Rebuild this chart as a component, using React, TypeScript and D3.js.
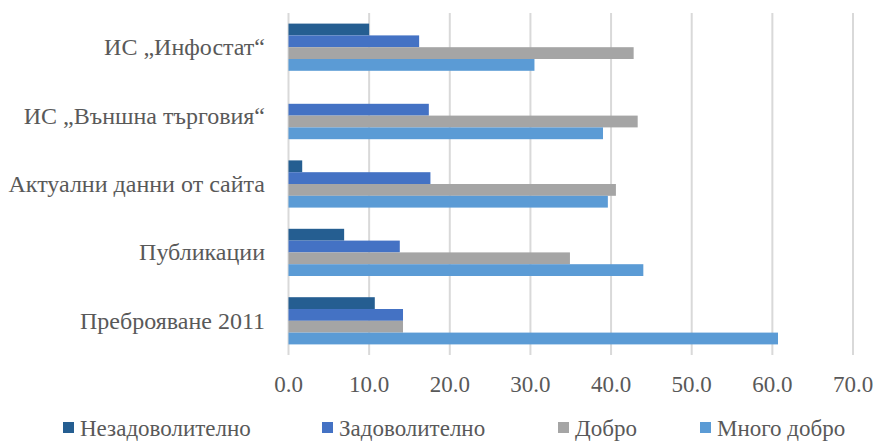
import * as d3 from "d3";

const categories = [
  "ИС „Инфостат“",
  "ИС „Външна търговия“",
  "Актуални данни от сайта",
  "Публикации",
  "Преброяване 2011",
];
const seriesNames = ["Незадоволително", "Задоволително", "Добро", "Много добро"];
const seriesColors = ["#255E91", "#4472C4", "#A5A5A5", "#5B9BD5"];

// values per category, in series order
const nezadovolitelno = [10.0, 0, 1.7, 6.9, 10.7];
const zadovolitelno = [16.2, 17.4, 17.6, 13.8, 14.2];
const dobro = [42.8, 43.3, 40.6, 34.9, 14.2];
const mnogoDobro = [30.5, 39.0, 39.6, 44.0, 60.7];
const xTicks = [0, 10, 20, 30, 40, 50, 60, 70];

const seriesValues = [nezadovolitelno, zadovolitelno, dobro, mnogoDobro];

const width = 881;
const height = 445;
const textStyle = { fontFamily: '"Liberation Serif", "DejaVu Serif", serif' };
const textColor = "#595959";
const fs = 23;

export default function App() {
  const x = d3.scaleLinear().domain([0, 70]).range([288.5, 853]);
  const y = d3
    .scaleBand()
    .domain(categories)
    .range([13, 355])
    .paddingInner(0.31)
    .paddingOuter(0.155);
  const ys = d3
    .scaleBand()
    .domain(seriesNames)
    .range([0, y.bandwidth()]);

  const legendX = [63, 322, 558, 700];

  return (
    <svg
      width={width}
      height={height}
      style={{ position: "absolute", left: 0, top: 0, background: "#fff" }}
    >
      {xTicks.map((t) => (
        <line
          key={t}
          x1={x(t)}
          x2={x(t)}
          y1={13}
          y2={355}
          stroke="#d9d9d9"
          strokeWidth={2}
        />
      ))}
      {categories.map((c, ci) => (
        <g key={c} transform={`translate(0,${y(c)})`}>
          {seriesNames.map((s, si) => {
            const v = seriesValues[si][ci];
            if (!v) return null;
            return (
              <rect
                key={s}
                x={x(0)}
                y={ys(s)}
                width={x(v) - x(0)}
                height={ys.bandwidth()}
                fill={seriesColors[si]}
              />
            );
          })}
          <text
            x={265}
            y={y.bandwidth() / 2}
            dy="0.33em"
            textAnchor="end"
            fontSize={24}
            fill={textColor}
            style={textStyle}
          >
            {c}
          </text>
        </g>
      ))}
      {xTicks.map((t) => (
        <text
          key={t}
          x={x(t)}
          y={392}
          textAnchor="middle"
          fontSize={fs}
          fill={textColor}
          style={textStyle}
        >
          {d3.format(".1f")(t)}
        </text>
      ))}
      {seriesNames.map((s, i) => (
        <g key={s} transform={`translate(${legendX[i]},422)`}>
          <rect width={11} height={11} fill={seriesColors[i]} />
          <text x={17} y={14} fontSize={fs} fill={textColor} style={textStyle}>
            {s}
          </text>
        </g>
      ))}
    </svg>
  );
}
